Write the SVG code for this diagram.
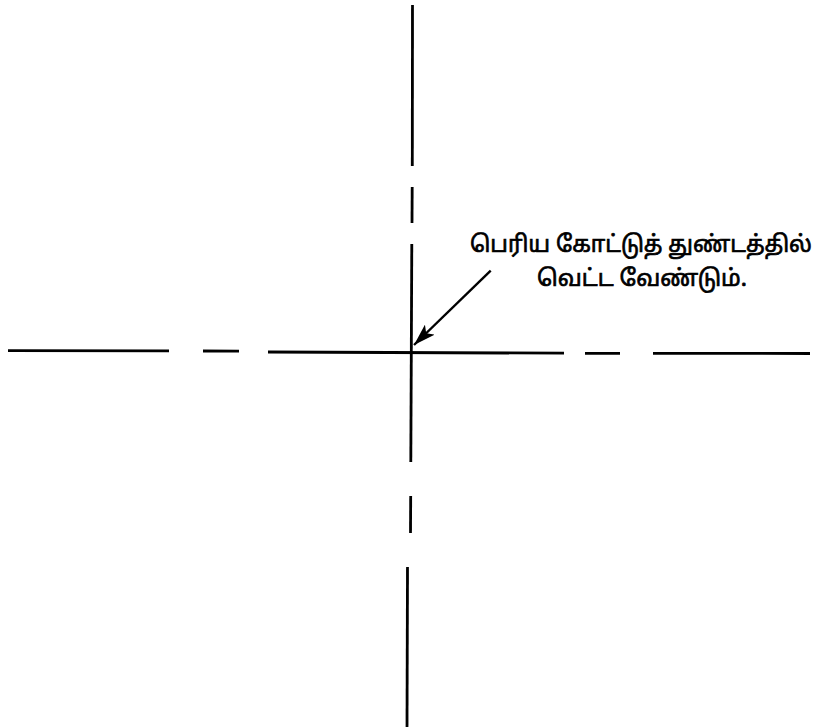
<svg xmlns="http://www.w3.org/2000/svg" width="818" height="727" viewBox="0 0 818 727">
<defs>
<style>
.ln{stroke:#000;stroke-width:2.8;fill:none;stroke-linecap:butt}
.lbl{font-family:"Noto Sans Tamil","Noto Sans","Liberation Sans",sans-serif;font-size:23px;fill:#000;stroke:#000;stroke-width:0.7}
</style>
<marker id="ah2" viewBox="0 0 22 14" refX="22" refY="7" markerWidth="22" markerHeight="14" markerUnits="userSpaceOnUse" orient="auto">
<path d="M0,0 L22,7 L0,14 L5,7 z" fill="#000"/>
</marker>
</defs>
<rect width="818" height="727" fill="#fff"/>
<g id="vertical-centerline">
<line class="ln" x1="412.5" y1="5" x2="412.3" y2="166"/>
<line class="ln" x1="412.2" y1="187" x2="412" y2="223"/>
<line class="ln" x1="411.8" y1="244" x2="410.8" y2="462"/>
<line class="ln" x1="410.7" y1="496" x2="410.5" y2="533"/>
<line class="ln" x1="407.5" y1="567" x2="407" y2="727"/>
</g>
<g id="horizontal-centerline">
<line class="ln" x1="8" y1="350.7" x2="169" y2="350.9"/>
<line class="ln" x1="203" y1="351" x2="239" y2="351.2"/>
<line class="ln" x1="268" y1="352" x2="564" y2="353.2"/>
<line class="ln" x1="585" y1="353.3" x2="620" y2="353.3"/>
<line class="ln" x1="653" y1="353.3" x2="810" y2="353.5"/>
</g>
<g id="label">
<text class="lbl" x="470" y="252" textLength="342" lengthAdjust="spacingAndGlyphs">பெரிய கோட்டுத் துண்டத்தில்</text>
<text class="lbl" x="537" y="286" textLength="210" lengthAdjust="spacingAndGlyphs">வெட்ட வேண்டும்.</text>
</g>
<g id="connectors">
<line x1="490.7" y1="270.7" x2="414" y2="345" stroke="#000" stroke-width="2.4" marker-end="url(#ah2)"/>
</g>
</svg>
